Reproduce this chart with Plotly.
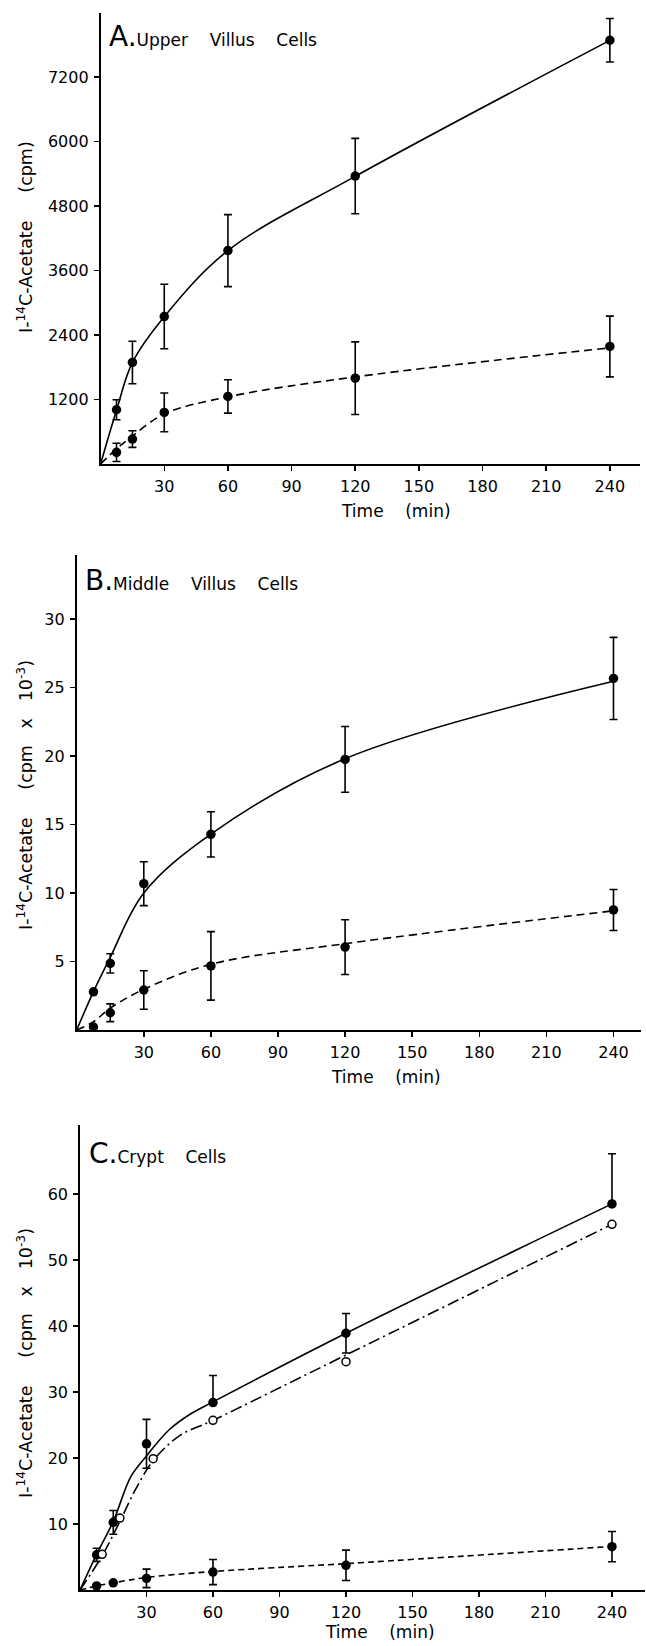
import plotly.graph_objects as go

W, H = 646, 1646
FONT = "DejaVu Sans"

# ---------------- data ----------------
time = [7.5, 15, 30, 60, 120, 240]
fit_t = [0, 7.5, 15, 30, 60, 120, 240]

# Panel A (cpm)
A_upper = [1009, 1889, 2743, 3969, 5356, 7882]
A_upper_err = [185, 395, 600, 670, 700, 405]
A_lower = [217, 464, 960, 1257, 1597, 2186]
A_lower_err = [170, 155, 360, 310, 675, 565]
A_fit_upper = [0, 1000, 1890, 2740, 3970, 5350, 7880]
A_fit_lower = [0, 280, 520, 930, 1250, 1620, 2160]

# Panel B (cpm x 10^-3)
B_upper = [2.79, 4.86, 10.68, 14.28, 19.75, 25.66]
B_upper_err = [0, 0.7, 1.6, 1.65, 2.4, 3.0]
B_lower = [0.21, 1.26, 2.92, 4.68, 6.05, 8.76]
B_lower_err = [0, 0.65, 1.4, 2.5, 2.0, 1.5]
B_fit_upper = [0, 2.8, 5.3, 10.0, 14.3, 19.8, 25.45]
B_fit_lower = [0, 0.6, 1.6, 2.97, 4.8, 6.3, 8.7]

# Panel C (cpm x 10^-3)
C_upper = [5.33, 10.25, 22.15, 28.4, 38.9, 58.5]
C_upper_plus = [1.0, 1.8, 3.7, 4.1, 3.0, 7.6]
C_upper_minus = [1.0, 1.8, 3.7, 0, 3.0, 0]
C_open_t = [10, 18, 33, 60, 120, 240]
C_open = [5.4, 10.9, 19.9, 25.7, 34.6, 55.4]
C_lower = [0.62, 1.08, 1.76, 2.72, 3.74, 6.57]
C_lower_err = [0, 0, 1.4, 1.9, 2.3, 2.3]
C_fit_upper_t = [0, 7.5, 15, 23, 30, 40, 50, 60, 120, 240]
C_fit_upper = [0, 5.4, 10.4, 17.2, 20.3, 24.2, 26.7, 28.5, 38.9, 58.5]
C_fit_open_t = [0, 10, 18, 25, 33, 45, 60, 120, 240]
C_fit_open = [0, 5.2, 10.4, 15.2, 19.6, 23.4, 25.7, 35.6, 55.4]
C_fit_lower = [0, 0.62, 1.08, 1.9, 2.8, 4.0, 6.6]

x_ticks = [30, 60, 90, 120, 150, 180, 210, 240]
A_yticks = [1200, 2400, 3600, 4800, 6000, 7200]
B_yticks = [5, 10, 15, 20, 25, 30]
C_yticks = [10, 20, 30, 40, 50, 60]

# ---------------- figure ----------------
fig = go.Figure()

def dots(x, y, xa, ya, plus=None, minus=None):
    ey = None
    if plus is not None:
        ey = dict(type="data", array=plus, arrayminus=minus if minus is not None else plus,
                  symmetric=False, width=4, thickness=1.6, color="black")
    fig.add_trace(go.Scatter(x=x, y=y, xaxis=xa, yaxis=ya, mode="markers",
                             marker=dict(size=9.5, color="black"), error_y=ey,
                             cliponaxis=False, showlegend=False, hoverinfo="skip"))

def curve(x, y, xa, ya, dash):
    fig.add_trace(go.Scatter(x=x, y=y, xaxis=xa, yaxis=ya, mode="lines",
                             line=dict(color="black", width=1.6, dash=dash, shape="spline", smoothing=1.0),
                             cliponaxis=False, showlegend=False, hoverinfo="skip"))

# Panel A
curve(fit_t, A_fit_upper, "x", "y", "solid")
curve(fit_t, A_fit_lower, "x", "y", "8px,5px")
dots(time, A_upper, "x", "y", A_upper_err)
dots(time, A_lower, "x", "y", A_lower_err)

# Panel B
curve(fit_t, B_fit_upper, "x2", "y2", "solid")
curve(fit_t, B_fit_lower, "x2", "y2", "8px,5px")
dots(time, B_upper, "x2", "y2", B_upper_err)
dots(time, B_lower, "x2", "y2", B_lower_err)

# Panel C
curve(C_fit_upper_t, C_fit_upper, "x3", "y3", "solid")
curve(C_fit_open_t, C_fit_open, "x3", "y3", "12px,4px,2px,4px")
curve(fit_t, C_fit_lower, "x3", "y3", "6px,4px")
dots(time, C_upper, "x3", "y3", C_upper_plus, C_upper_minus)
dots(time, C_lower, "x3", "y3", C_lower_err)
fig.add_trace(go.Scatter(x=C_open_t, y=C_open, xaxis="x3", yaxis="y3", mode="markers",
                         marker=dict(size=8, color="white", line=dict(color="black", width=1.5)),
                         cliponaxis=False, showlegend=False, hoverinfo="skip"))

def px_dom_x(a, b):
    return [a / W, b / W]

def px_dom_y(top, bottom):
    return [1 - bottom / H, 1 - top / H]

panels = [
    # (x left px, x right px, y top px, y bottom px, xmax, ymax, yticks)
    (100.6, 640, 13.3, 464, 254.2, 8383, A_yticks),
    (76.7, 641, 555, 1030, 252.3, 34.67, B_yticks),
    (80.0, 645, 1125, 1590, 254.9, 70.45, C_yticks),
]

tickfont = dict(family=FONT, size=16, color="black")
layout = dict(width=W, height=H, margin=dict(l=0, r=0, t=0, b=0),
              paper_bgcolor="white", plot_bgcolor="white", showlegend=False)

for i, (xl, xr, yt, yb, xmax, ymax, yt_vals) in enumerate(panels):
    n = i + 1
    xs = "" if n == 1 else str(n)
    ox = str(n + 3)
    xd = px_dom_x(xl, xr)
    yd = px_dom_y(yt, yb)
    layout["xaxis" + xs] = dict(domain=xd, range=[0, xmax], anchor="y" + xs, autorange=False,
                                tickvals=x_ticks, ticktext=[str(v) for v in x_ticks],
                                ticks="outside", ticklen=5, tickwidth=1.5, tickcolor="black",
                                showline=True, linewidth=1.8, linecolor="black",
                                showgrid=False, zeroline=False, tickfont=tickfont,
                                ticklabelstandoff=2, fixedrange=True)
    layout["yaxis" + xs] = dict(domain=yd, range=[0, ymax], anchor="x" + xs, autorange=False,
                                tickvals=yt_vals, ticktext=[str(v) for v in yt_vals],
                                ticks="outside", ticklen=5, tickwidth=1.5, tickcolor="black",
                                showline=True, linewidth=1.8, linecolor="black",
                                showgrid=False, zeroline=False, tickfont=tickfont,
                                ticklabelstandoff=2, fixedrange=True)
    # overlay axes to make the ticks cross the axis lines
    layout["xaxis" + ox] = dict(domain=xd, range=[0, xmax], overlaying="x" + xs, anchor="y" + xs,
                                side="bottom", autorange=False, tickvals=x_ticks, ticks="inside",
                                ticklen=5, tickwidth=1.5, tickcolor="black", showticklabels=False,
                                showline=False, showgrid=False, zeroline=False, fixedrange=True)
    layout["yaxis" + ox] = dict(domain=yd, range=[0, ymax], overlaying="y" + xs, anchor="x" + xs,
                                side="left", autorange=False, tickvals=yt_vals, ticks="inside",
                                ticklen=5, tickwidth=1.5, tickcolor="black", showticklabels=False,
                                showline=False, showgrid=False, zeroline=False, fixedrange=True)

fig.update_layout(**layout)

def ann(text, x, y, size=17, angle=0, xanchor="center", yanchor="middle"):
    fig.add_annotation(text=text, x=x / W, y=1 - y / H, xref="paper", yref="paper",
                       showarrow=False, textangle=angle, xanchor=xanchor, yanchor=yanchor,
                       font=dict(family=FONT, size=size, color="black"))

sp = "&nbsp;&nbsp;&nbsp;&nbsp;"
def title(letter, words):
    return ("<span style='font-size:28px'>" + letter + ".</span>" + sp.join(words))

ann(title("A", ["Upper", "Villus", "Cells"]), 107, 36, xanchor="left")
ann(title("B", ["Middle", "Villus", "Cells"]), 83, 580, xanchor="left")
ann(title("C", ["Crypt", "Cells"]), 87, 1153, xanchor="left")

time_lbl = "Time" + sp + "(min)"
ann(time_lbl, 396, 511)
ann(time_lbl, 386, 1077)
ann(time_lbl, 380, 1632)

ylab_a = "I-<sup>14</sup>C-Acetate&nbsp;&nbsp;&nbsp;&nbsp;&nbsp;(cpm)"
ylab_bc = "I-<sup>14</sup>C-Acetate&nbsp;&nbsp;&nbsp;&nbsp;&nbsp;(cpm&nbsp;&nbsp;&nbsp;x&nbsp;&nbsp;&nbsp;10<sup>-3</sup>)"
ann(ylab_a, 25, 237, size=17.5, angle=-90)
ann(ylab_bc, 25, 795, size=17.5, angle=-90)
ann(ylab_bc, 25, 1363, size=17.5, angle=-90)

fig.write_html("out.html", config={"displayModeBar": False, "staticPlot": True},
               post_script="document.body.style.margin='0';document.body.style.padding='0';")
